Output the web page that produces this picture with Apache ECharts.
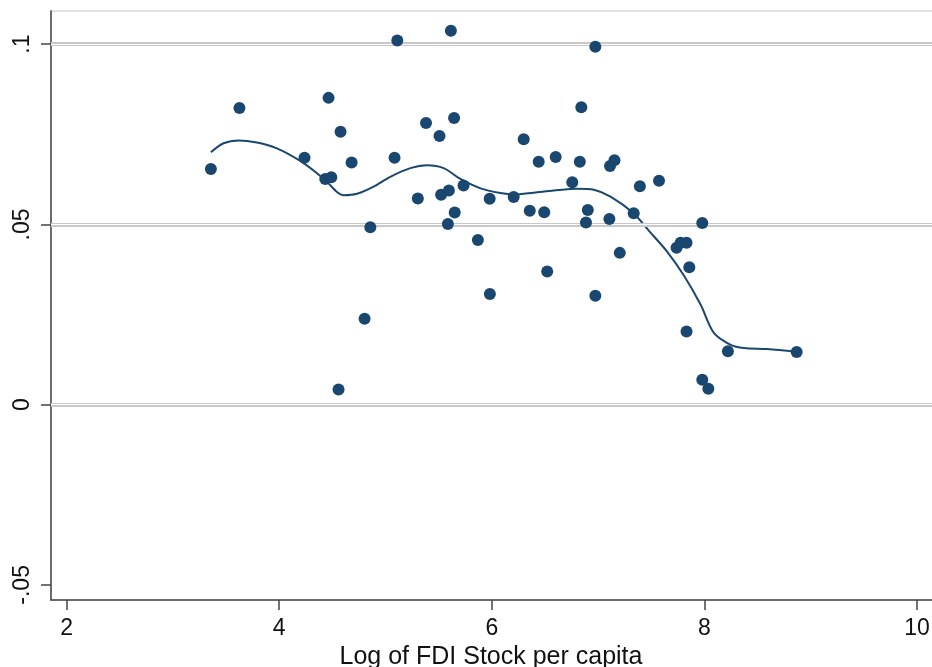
<!DOCTYPE html>
<html>
<head>
<meta charset="utf-8">
<title>FDI stock scatter</title>
<script src="https://cdn.jsdelivr.net/npm/echarts@6/dist/echarts.min.js"></script>
<style>
  html, body { margin: 0; padding: 0; background: #fff; }
  #chart { width: 932px; height: 667px; }
</style>
</head>
<body>
<div id="chart"></div>
<script>
// scatter points: log FDI stock per capita vs. outcome
const fdiX = [
  3.357, 3.626, 4.238, 4.464, 4.433, 4.490, 4.577, 4.681, 4.558, 4.803,
  4.857, 5.085, 5.111, 5.304, 5.381, 5.508, 5.523, 5.596, 5.615, 5.645,
  5.587, 5.651, 5.734, 5.869, 5.982, 5.980, 6.206, 6.300, 6.357, 6.441,
  6.493, 6.521, 6.601, 6.757, 6.842, 6.828, 6.903, 6.886, 6.974, 6.974,
  7.106, 7.112, 7.154, 7.204, 7.335, 7.393, 7.573, 7.738, 7.776, 7.832,
  7.858, 7.832, 7.980, 7.980, 8.037, 8.221, 8.868
];
const outcomeY = [
  0.0654, 0.0823, 0.0685, 0.0851, 0.0626, 0.0631, 0.0757, 0.0672, 0.0042, 0.0238,
  0.0492, 0.0685, 0.1010, 0.0572, 0.0781, 0.0745, 0.0582, 0.0594, 0.1037, 0.0795,
  0.0501, 0.0533, 0.0608, 0.0457, 0.0307, 0.0571, 0.0576, 0.0736, 0.0538, 0.0674,
  0.0534, 0.0369, 0.0687, 0.0617, 0.0825, 0.0674, 0.0540, 0.0505, 0.0993, 0.0302,
  0.0515, 0.0662, 0.0678, 0.0421, 0.0531, 0.0606, 0.0621, 0.0435, 0.0449, 0.0449,
  0.0381, 0.0203, 0.0504, 0.0069, 0.0044, 0.0148, 0.0146
];

// smoothed fit line
const fitX = [
  3.357, 3.476, 3.617, 3.790, 3.978, 4.198, 4.355, 4.449, 4.543, 4.605,
  4.732, 4.888, 5.045, 5.234, 5.391, 5.547, 5.704, 5.893, 6.081, 6.206,
  6.394, 6.583, 6.803, 6.960, 7.117, 7.328, 7.485, 7.651, 7.807, 7.965,
  8.089, 8.247, 8.372, 8.592, 8.868
];
const fitY = [
  0.0700, 0.0725, 0.0733, 0.0727, 0.0711, 0.0676, 0.0642, 0.0618, 0.0590, 0.0581,
  0.0585, 0.0605, 0.0632, 0.0656, 0.0664, 0.0656, 0.0626, 0.0600, 0.0587, 0.0583,
  0.0588, 0.0594, 0.0599, 0.0596, 0.0577, 0.0532, 0.0480, 0.0424, 0.0358, 0.0277,
  0.0199, 0.0166, 0.0157, 0.0154, 0.0146
];

const xTicks = [2, 4, 6, 8, 10];
const yTicks = [-0.05, 0, 0.05, 0.1];
const yGridValues = [0, 0.05, 0.1];
const xTitle = 'Log of FDI Stock per capita';

const navy = '#1a476f';
const axisColor = '#444';
const fontFamily = '"Liberation Sans", Arial, sans-serif';

function yLabel(v) {
  if (v === 0) return '0';
  return String(v).replace('0.', '.');
}

const chart = echarts.init(document.getElementById('chart'), null, { renderer: 'canvas' });

chart.setOption({
  backgroundColor: '#fff',
  animation: false,
  title: {
    text: xTitle,
    left: 491,
    top: 645,
    textAlign: 'center',
    padding: 0,
    textStyle: { color: '#111', fontSize: 25, fontWeight: 'normal', fontFamily }
  },
  grid: {
    left: 51, right: -2, top: 11, bottom: 67,
    outerBoundsMode: 'none',
    containLabel: false,
    show: true, borderColor: '#c4c4c4', borderWidth: 1, backgroundColor: 'transparent'
  },
  xAxis: {
    type: 'value',
    min: 1.853,
    max: 10.16,
    axisLine: { show: true, onZero: false, lineStyle: { color: axisColor, width: 1.5 } },
    axisTick: { show: true, length: 10, customValues: xTicks, lineStyle: { color: axisColor, width: 1.5 } },
    axisLabel: { color: '#111', fontSize: 23, fontFamily, margin: 17, customValues: xTicks },
    splitLine: { show: false }
  },
  yAxis: {
    type: 'value',
    min: -0.0542,
    max: 0.1092,
    axisLine: { show: true, onZero: false, lineStyle: { color: axisColor, width: 1.5 } },
    axisTick: { show: true, length: 10, customValues: yTicks, lineStyle: { color: axisColor, width: 1.5 } },
    axisLabel: {
      color: '#111', fontSize: 23, fontFamily, margin: 17, rotate: 90,
      customValues: yTicks, formatter: yLabel
    },
    splitLine: { show: false }
  },
  series: [
    {
      name: 'grid-outer',
      type: 'line',
      data: [],
      z: 1,
      markLine: {
        silent: true,
        symbol: 'none',
        label: { show: false },
        lineStyle: { color: '#c8c8c8', width: 4, type: 'solid' },
        data: yGridValues.map(v => ({ yAxis: v }))
      }
    },
    {
      name: 'grid-inner',
      type: 'line',
      data: [],
      z: 2,
      markLine: {
        silent: true,
        symbol: 'none',
        label: { show: false },
        lineStyle: { color: '#ffffff', width: 1.2, type: 'solid' },
        data: yGridValues.map(v => ({ yAxis: v }))
      }
    },
    {
      name: 'fit',
      type: 'line',
      z: 4,
      smooth: 0.3,
      symbol: 'none',
      lineStyle: { color: navy, width: 2 },
      data: fitX.map((x, i) => [x, fitY[i]])
    },
    {
      name: 'points',
      type: 'scatter',
      z: 5,
      symbolSize: 12,
      itemStyle: { color: navy, opacity: 1 },
      data: fdiX.map((x, i) => [x, outcomeY[i]])
    }
  ]
});
</script>
</body>
</html>
